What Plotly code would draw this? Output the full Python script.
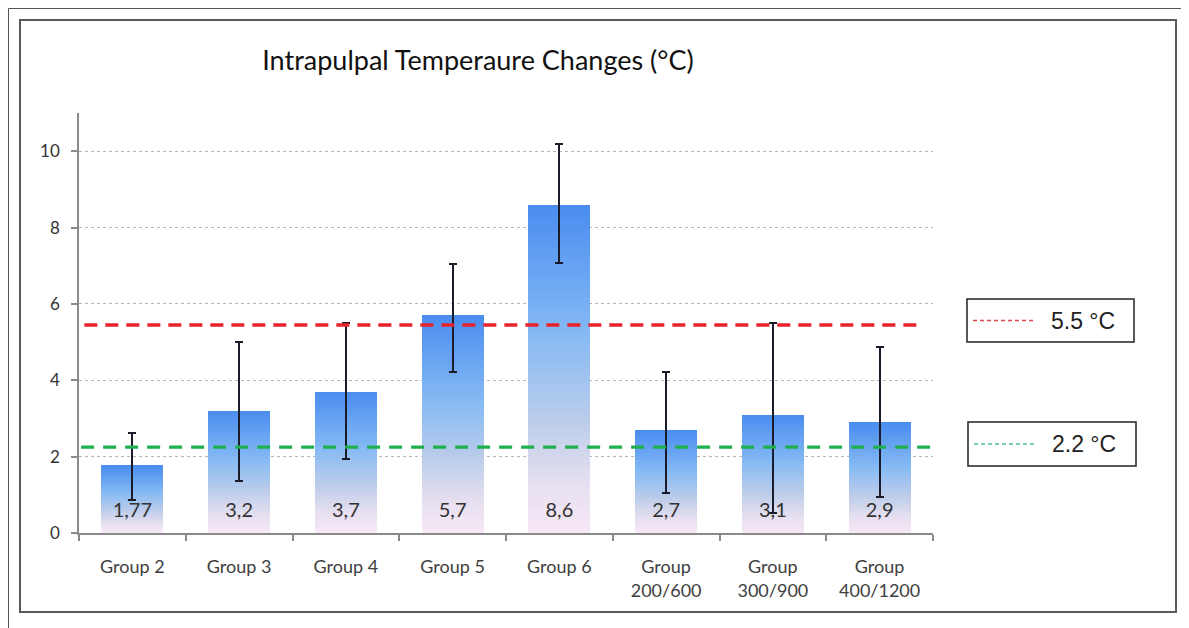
import plotly.graph_objects as go

# ---------------- data ----------------
categories = ["Group 2", "Group 3", "Group 4", "Group 5", "Group 6",
              "Group<br>200/600", "Group<br>300/900", "Group<br>400/1200"]
means = [1.77, 3.2, 3.7, 5.7, 8.6, 2.7, 3.1, 2.9]
value_labels = ["1,77", "3,2", "3,7", "5,7", "8,6", "2,7", "3,1", "2,9"]
err_plus = [0.85, 1.80, 1.79, 1.34, 1.58, 1.51, 2.39, 1.97]
err_minus = [0.91, 1.84, 1.77, 1.49, 1.53, 1.65, 2.58, 1.96]
thresholds = [5.45, 2.25]
threshold_labels = ["5.5 °C", "2.2 °C"]
y_ticks = [0, 2, 4, 6, 8, 10]

# ---------------- geometry helpers (page pixels -> paper) ----------------
OFF = 8  # page body margin
W, H = 1189 - OFF, 628 - OFF
L, T = 79 - OFF, 113 - OFF
R = W - (933 - OFF)
B = H - (533 - OFF)
PW, PH = W - L - R, H - T - B


def px(x):
    return (x - OFF - L) / PW


def py(y):
    return (H - B - (y - OFF)) / PH


xs = list(range(len(categories)))

# gradient stops (fraction of bar height -> rgb)
stops = [(0.0, (248, 232, 246)), (0.15, (230, 223, 240)), (0.35, (186, 204, 234)),
         (0.6, (134, 186, 244)), (1.0, (74, 141, 240))]


def grad(f):
    for (f0, c0), (f1, c1) in zip(stops[:-1], stops[1:]):
        if f0 <= f <= f1:
            t = (f - f0) / (f1 - f0)
            c = [round(a + (b - a) * t) for a, b in zip(c0, c1)]
            return f"rgb({c[0]},{c[1]},{c[2]})"
    return f"rgb{stops[-1][1]}"


fig = go.Figure()
N = 60
for k in range(N):
    fig.add_bar(
        x=xs, y=[v / N for v in means], base=[v * k / N for v in means],
        width=0.58, marker=dict(color=grad((k + 0.5) / N), line=dict(width=0)),
        showlegend=False, hoverinfo="skip")

# error bars
fig.add_bar(
    x=xs, y=means, width=0.58, marker=dict(color="rgba(0,0,0,0)", line=dict(width=0)),
    error_y=dict(type="data", symmetric=False, array=err_plus, arrayminus=err_minus,
                 color="#1b1b2a", thickness=1.8, width=4),
    showlegend=False, hoverinfo="skip")

# threshold lines
fig.add_scatter(x=[-0.45, 7.37], y=[thresholds[0]] * 2, mode="lines",
                line=dict(color="#e8232b", width=3.5, dash="13px,8px"),
                showlegend=False, hoverinfo="skip")
fig.add_scatter(x=[-0.48, 7.48], y=[thresholds[1]] * 2, mode="lines",
                line=dict(color="#1fb04e", width=3.2, dash="13px,9px"),
                showlegend=False, hoverinfo="skip")

# value labels
fig.add_scatter(x=xs, y=[0.55] * len(xs), mode="text", text=value_labels,
                textfont=dict(family="Lato, Noto Sans", size=20, color="#333333"),
                showlegend=False, hoverinfo="skip")

shapes = []
# outer and inner frames
shapes.append(dict(type="rect", xref="paper", yref="paper",
                   x0=px(8.5), x1=px(1187.5), y0=py(640), y1=py(8.5),
                   line=dict(color="#555555", width=1), layer="below"))
shapes.append(dict(type="rect", xref="paper", yref="paper",
                   x0=px(20), x1=px(1176), y0=py(612), y1=py(20),
                   line=dict(color="#5a5a5a", width=2), layer="below"))
# legend boxes
boxes = [(967, 1134, 299, 342, "#d8484e"), (968, 1136, 422, 466, "#4cc488")]
annotations = []
for (x0, x1, y0, y1, col), lab in zip(boxes, threshold_labels):
    shapes.append(dict(type="rect", xref="paper", yref="paper",
                       x0=px(x0), x1=px(x1), y0=py(y1), y1=py(y0),
                       line=dict(color="#222222", width=1.5)))
    ym = (y0 + y1) / 2
    shapes.append(dict(type="line", xref="paper", yref="paper",
                       x0=px(x0 + 6), x1=px(x0 + 66), y0=py(ym), y1=py(ym),
                       line=dict(color=col, width=1.5, dash="4px,3px")))
    annotations.append(dict(xref="paper", yref="paper", x=px(x0 + 116), y=py(ym),
                            text=lab, showarrow=False, xanchor="center", yanchor="middle",
                            font=dict(family="Liberation Sans, Arial", size=23, color="#222222")))

fig.update_layout(
    width=W, height=H,
    margin=dict(l=L, r=R, t=T, b=B),
    paper_bgcolor="white", plot_bgcolor="white",
    barmode="overlay", bargap=0,
    title=dict(text="Intrapulpal Temperaure Changes (°C)", x=(478 - OFF) / W, xanchor="center",
               y=1 - (61 - OFF) / H, yanchor="middle",
               font=dict(family="Lato, Noto Sans", size=27, color="#111111")),
    xaxis=dict(range=[-0.5, 7.5], tickmode="array", tickvals=xs, ticktext=categories,
               showgrid=False, zeroline=False, showline=True, linecolor="#8a8a8a", linewidth=1.5,
               ticks="", ticklabelstandoff=17,
               minor=dict(tickmode="array", tickvals=[i - 0.5 for i in range(len(xs) + 1)],
                          ticks="outside", ticklen=6, tickcolor="#8a8a8a", tickwidth=1.5),
               tickfont=dict(family="Lato, Noto Sans", size=18, color="#404040"),
               fixedrange=True),
    yaxis=dict(range=[0, 11], tickmode="array", tickvals=y_ticks,
               showgrid=True, gridcolor="#b5b5b5", griddash="dot", gridwidth=1,
               zeroline=False, showline=True, linecolor="#8a8a8a", linewidth=1.5,
               ticks="outside", ticklen=6, tickcolor="#8a8a8a", tickwidth=1.5,
               ticklabelstandoff=8,
               tickfont=dict(family="Lato, Noto Sans", size=17, color="#333333"),
               fixedrange=True),
    shapes=shapes, annotations=annotations,
    showlegend=False,
)

fig.write_html("out.html")
